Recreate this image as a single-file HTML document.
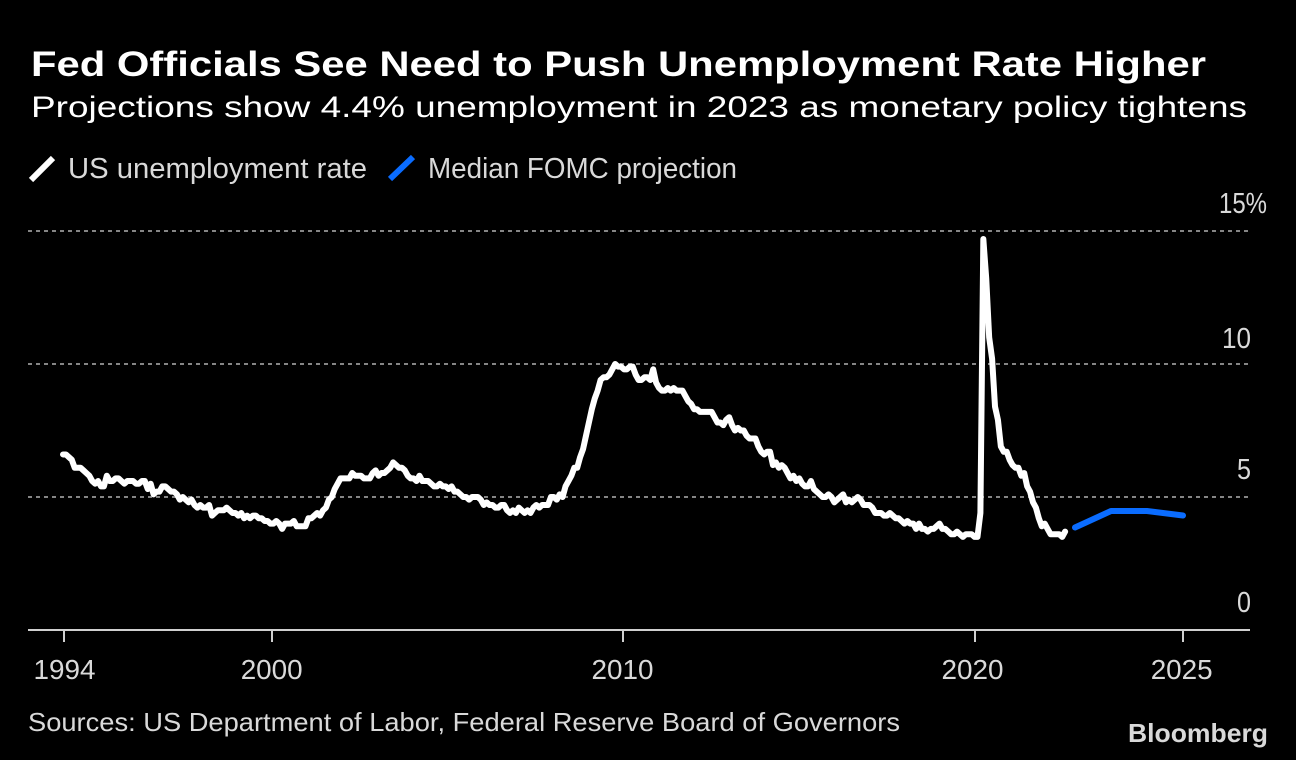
<!DOCTYPE html>
<html>
<head>
<meta charset="utf-8">
<style>
  html, body { margin: 0; padding: 0; background: #000; }
  svg { display: block; }
  text { font-family: "Liberation Sans", "DejaVu Sans", sans-serif; }
</style>
</head>
<body>
<svg width="1296" height="760" viewBox="0 0 1296 760" xmlns="http://www.w3.org/2000/svg">
  <rect x="0" y="0" width="1296" height="760" fill="#000"/>

  <!-- Title & subtitle -->
  <text x="31" y="76" font-size="35" font-weight="bold" fill="#ffffff" textLength="1175" lengthAdjust="spacingAndGlyphs">Fed Officials See Need to Push Unemployment Rate Higher</text>
  <text x="31" y="117" font-size="30" fill="#ffffff" textLength="1216" lengthAdjust="spacingAndGlyphs">Projections show 4.4% unemployment in 2023 as monetary policy tightens</text>

  <!-- Legend -->
  <line x1="31" y1="180" x2="53" y2="158" stroke="#ffffff" stroke-width="6"/>
  <text x="68" y="178" font-size="29" fill="#d9d9d9" textLength="299" lengthAdjust="spacingAndGlyphs">US unemployment rate</text>
  <line x1="390" y1="179" x2="413" y2="157" stroke="#0a6cff" stroke-width="6"/>
  <text x="428" y="178" font-size="29" fill="#d9d9d9" textLength="309" lengthAdjust="spacingAndGlyphs">Median FOMC projection</text>

  <!-- Gridlines -->
  <g stroke="#858585" stroke-width="2" stroke-dasharray="4,4">
    <line x1="28" y1="231" x2="1250" y2="231"/>
    <line x1="28" y1="364" x2="1250" y2="364"/>
    <line x1="28" y1="497" x2="1250" y2="497"/>
  </g>

  <!-- Y labels -->
  <g font-size="29" fill="#d9d9d9">
    <text x="1219" y="213" textLength="48" lengthAdjust="spacingAndGlyphs">15%</text>
    <text x="1222" y="348" textLength="29" lengthAdjust="spacingAndGlyphs">10</text>
    <text x="1237" y="479" textLength="14" lengthAdjust="spacingAndGlyphs">5</text>
    <text x="1237" y="612" textLength="14" lengthAdjust="spacingAndGlyphs">0</text>
  </g>

  <!-- X axis -->
  <line x1="28" y1="630" x2="1250" y2="630" stroke="#d0d0d0" stroke-width="2"/>
  <g stroke="#d0d0d0" stroke-width="2">
    <line x1="64" y1="630" x2="64" y2="642"/>
    <line x1="272" y1="630" x2="272" y2="642"/>
    <line x1="623" y1="630" x2="623" y2="642"/>
    <line x1="975" y1="630" x2="975" y2="642"/>
    <line x1="1183" y1="630" x2="1183" y2="642"/>
  </g>
  <g font-size="28" fill="#d9d9d9" text-anchor="middle">
    <text x="64.5" y="679" textLength="62" lengthAdjust="spacingAndGlyphs">1994</text>
    <text x="271.7" y="679" textLength="62" lengthAdjust="spacingAndGlyphs">2000</text>
    <text x="622.5" y="679" textLength="62" lengthAdjust="spacingAndGlyphs">2010</text>
    <text x="972.5" y="679" textLength="62" lengthAdjust="spacingAndGlyphs">2020</text>
    <text x="1181.7" y="679" textLength="62" lengthAdjust="spacingAndGlyphs">2025</text>
  </g>

  <!-- US unemployment rate (month index, value*10) -->
  <polyline transform="matrix(2.92167 0 0 -2.66 63 630)" vector-effect="non-scaling-stroke"
    fill="none" stroke="#ffffff" stroke-width="6" stroke-linejoin="round" stroke-linecap="round"
    points="0,66 1,66 2,65 3,64 4,61 5,61 6,61 7,60 8,59 9,58 10,56 11,55
12,56 13,54 14,54 15,58 16,56 17,56 18,57 19,57 20,56 21,55 22,56 23,56
24,56 25,55 26,55 27,56 28,56 29,53 30,55 31,51 32,52 33,52 34,54 35,54
36,53 37,52 38,52 39,51 40,49 41,50 42,49 43,48 44,49 45,47 46,46 47,47
48,46 49,46 50,47 51,43 52,44 53,45 54,45 55,45 56,46 57,45 58,44 59,44
60,43 61,44 62,42 63,43 64,42 65,43 66,43 67,42 68,42 69,41 70,41 71,40
72,40 73,41 74,40 75,38 76,40 77,40 78,40 79,41 80,39 81,39 82,39 83,39
84,42 85,42 86,43 87,44 88,43 89,45 90,46 91,49 92,50 93,53 94,55 95,57
96,57 97,57 98,57 99,59 100,58 101,58 102,58 103,57 104,57 105,57 106,59 107,60
108,58 109,59 110,59 111,60 112,61 113,63 114,62 115,61 116,61 117,60 118,58 119,57
120,57 121,56 122,58 123,56 124,56 125,56 126,55 127,54 128,54 129,55 130,54 131,54
132,53 133,54 134,52 135,52 136,51 137,50 138,50 139,49 140,50 141,50 142,50 143,49
144,47 145,48 146,47 147,47 148,46 149,46 150,47 151,47 152,45 153,44 154,45 155,44
156,46 157,45 158,44 159,45 160,44 161,46 162,47 163,46 164,47 165,47 166,47 167,50
168,50 169,49 170,51 171,50 172,54 173,56 174,58 175,61 176,61 177,65 178,68 179,73
180,78 181,83 182,87 183,90 184,94 185,95 186,95 187,96 188,98 189,100 190,99 191,99
192,98 193,98 194,99 195,99 196,96 197,94 198,94 199,95 200,95 201,94 202,98 203,93
204,91 205,90 206,90 207,91 208,90 209,91 210,90 211,90 212,90 213,88 214,86 215,85
216,83 217,83 218,82 219,82 220,82 221,82 222,82 223,80 224,78 225,78 226,77 227,79
228,80 229,77 230,75 231,76 232,75 233,75 234,73 235,72 236,72 237,72 238,69 239,67
240,66 241,67 242,67 243,62 244,63 245,61 246,62 247,61 248,59 249,57 250,58 251,56
252,57 253,55 254,54 255,54 256,56 257,53 258,52 259,51 260,50 261,50 262,51 263,50
264,48 265,49 266,50 267,51 268,48 269,49 270,48 271,49 272,50 273,49 274,47 275,47
276,47 277,46 278,44 279,44 280,44 281,43 282,43 283,44 284,43 285,42 286,42 287,41
288,40 289,41 290,40 291,40 292,38 293,40 294,38 295,38 296,37 297,38 298,38 299,39
300,40 301,38 302,38 303,37 304,36 305,36 306,37 307,36 308,35 309,36 310,36 311,36
312,35 313,35 314,44 315,147 316,132 317,110 318,102 319,84 320,79 321,69 322,67 323,67
324,64 325,62 326,61 327,61 328,58 329,59 330,54 331,52 332,48 333,46 334,42 335,39
336,40 337,38 338,36 339,36 340,36 341,36 342,35 343,37"/>

  <!-- Median FOMC projection -->
  <polyline fill="none" stroke="#0a6cff" stroke-width="6" stroke-linejoin="round" stroke-linecap="round"
    points="1075,527.5 1111,511 1147,511 1183,515.5"/>

  <!-- Footer -->
  <text x="28" y="731" font-size="26" fill="#d9d9d9" textLength="872" lengthAdjust="spacingAndGlyphs">Sources: US Department of Labor, Federal Reserve Board of Governors</text>
  <text x="1128" y="742" font-size="26" font-weight="bold" fill="#d9d9d9" textLength="140" lengthAdjust="spacingAndGlyphs">Bloomberg</text>
</svg>
</body>
</html>
